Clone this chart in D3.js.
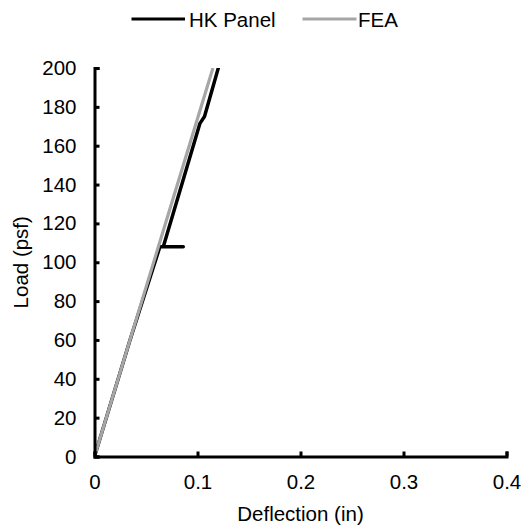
<!DOCTYPE html>
<html>
<head>
<meta charset="utf-8">
<script src="https://cdn.jsdelivr.net/npm/d3@7"></script>
<style>
  html, body { margin: 0; padding: 0; background: #fff; }
  svg { display: block; }
  text { font-family: Arial, "Liberation Sans", sans-serif; fill: #000; }
</style>
</head>
<body>
<svg id="chart" width="522" height="527"></svg>
<script>
// Load–deflection data (deflection in inches, load in psf)
const hkDeflection = [0, 0.0345, 0.0635, 0.0862, 0.0668, 0.1024, 0.1068, 0.1202];
const hkLoad       = [0, 60, 108, 108, 108, 171.5, 175, 200];

const feaDeflection = [0, 0.0626, 0.1150];
const feaLoad       = [0, 109, 200];

const seriesNames = ["HK Panel", "FEA"];
const seriesColors = ["#000000", "#a6a6a6"];

const xTicks = [0, 0.1, 0.2, 0.3, 0.4];
const yTicks = [0, 20, 40, 60, 80, 100, 120, 140, 160, 180, 200];

const svg = d3.select("#chart");
const x = d3.scaleLinear().domain([0, 0.4]).range([94.5, 506.5]);
const y = d3.scaleLinear().domain([0, 200]).range([456.5, 68]);

const fontSize = "20.5px";

// Clip data lines to the plot area
svg.append("defs").append("clipPath").attr("id", "plotClip")
  .append("rect")
  .attr("x", x(0)).attr("y", y(200))
  .attr("width", x(0.4) - x(0)).attr("height", y(0) - y(200));

const line = d3.line().x(d => x(d[0])).y(d => y(d[1]));
const hk = d3.zip(hkDeflection, hkLoad);
const fea = d3.zip(feaDeflection, feaLoad);

const plot = svg.append("g").attr("clip-path", "url(#plotClip)");
plot.append("path").datum(hk)
  .attr("d", line).attr("fill", "none")
  .attr("stroke", seriesColors[0]).attr("stroke-width", 3.5)
  .attr("stroke-linejoin", "round").attr("stroke-linecap", "round");
plot.append("path").datum(fea)
  .attr("d", line).attr("fill", "none")
  .attr("stroke", seriesColors[1]).attr("stroke-width", 3.2)
  .attr("stroke-linejoin", "round");

// Axes with inward ticks
const xAxis = d3.axisBottom(x).tickValues(xTicks)
  .tickFormat(d => d === 0 ? "0" : d3.format(".1f")(d))
  .tickSize(-5).tickSizeOuter(-5).tickPadding(18);
const yAxis = d3.axisLeft(y).tickValues(yTicks)
  .tickFormat(d3.format("d"))
  .tickSize(-5).tickSizeOuter(-5).tickPadding(18);

const gx = svg.append("g").attr("transform", `translate(0,${y(0)})`).call(xAxis);
const gy = svg.append("g").attr("transform", `translate(${x(0)},0)`).call(yAxis);

[gx, gy].forEach(g => {
  g.select(".domain").attr("stroke", "#000").attr("stroke-width", 3);
  g.selectAll(".tick line").attr("stroke", "#000").attr("stroke-width", 3);
  g.selectAll(".tick text").attr("font-size", fontSize)
    .attr("font-family", "Arial, 'Liberation Sans', sans-serif").attr("fill", "#000");
});

// Axis titles
svg.append("text")
  .attr("x", (x(0) + x(0.4)) / 2).attr("y", 521)
  .attr("text-anchor", "middle").attr("font-size", fontSize)
  .text("Deflection (in)");

svg.append("text")
  .attr("transform", `translate(28,${(y(0) + y(200)) / 2}) rotate(-90)`)
  .attr("text-anchor", "middle").attr("font-size", fontSize)
  .text("Load (psf)");

// Legend
const legendItems = [
  { name: seriesNames[0], color: seriesColors[0], x1: 131.5, x2: 185, tx: 189 },
  { name: seriesNames[1], color: seriesColors[1], x1: 302.5, x2: 356.5, tx: 358 }
];
const legend = svg.append("g");
legendItems.forEach(it => {
  legend.append("line")
    .attr("x1", it.x1).attr("x2", it.x2).attr("y1", 19).attr("y2", 19)
    .attr("stroke", it.color).attr("stroke-width", 3.2);
  legend.append("text")
    .attr("x", it.tx).attr("y", 26.5).attr("font-size", fontSize)
    .text(it.name);
});
</script>
</body>
</html>
